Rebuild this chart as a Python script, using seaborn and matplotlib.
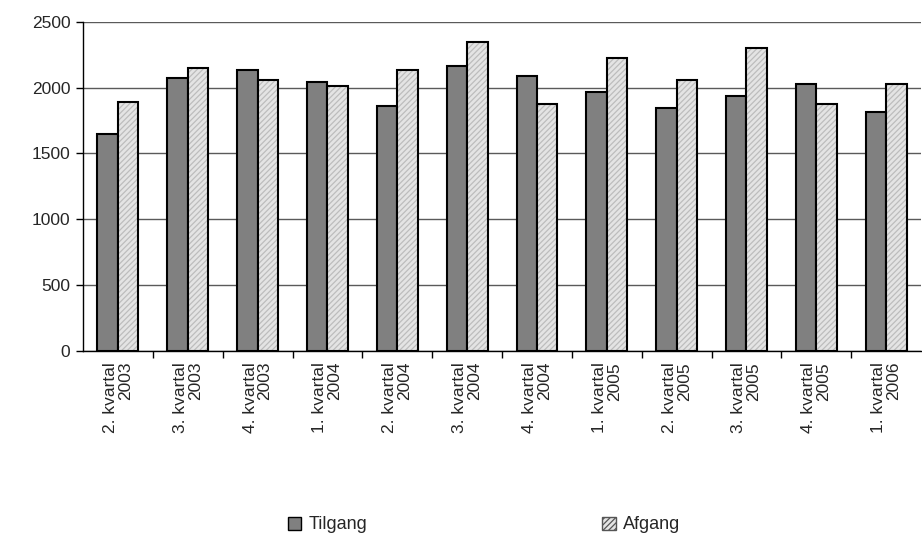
import seaborn as sns
import matplotlib.pyplot as plt
import matplotlib.colors as mcolors
from matplotlib.patches import Patch
from matplotlib.ticker import FixedLocator
import pandas as pd

# Data
kvartaler = ["2. kvartal\n2003", "3. kvartal\n2003", "4. kvartal\n2003",
             "1. kvartal\n2004", "2. kvartal\n2004", "3. kvartal\n2004",
             "4. kvartal\n2004", "1. kvartal\n2005", "2. kvartal\n2005",
             "3. kvartal\n2005", "4. kvartal\n2005", "1. kvartal\n2006"]
tilgang = [1650, 2072, 2135, 2044, 1862, 2163, 2085, 1963, 1844, 1935, 2026, 1813]
afgang = [1890, 2148, 2057, 2014, 2135, 2346, 1877, 2224, 2057, 2300, 1877, 2026]
serier = ["Tilgang", "Afgang"]

df = pd.DataFrame({"kvartal": kvartaler * 2,
                   "antal": tilgang + afgang,
                   "serie": ["Tilgang"] * len(kvartaler) + ["Afgang"] * len(kvartaler)})

sns.set_theme(style="white")
plt.rcParams['font.family'] = ['Liberation Sans', 'DejaVu Sans']
plt.rcParams['hatch.linewidth'] = 0.9

fig = plt.figure(figsize=(9.22, 5.44), dpi=100)
ax = fig.add_axes([0.09, 0.355, 0.909, 0.605])

sns.barplot(data=df, x="kvartal", y="antal", hue="serie", hue_order=serier,
            palette={"Tilgang": "#808080", "Afgang": "#e4e4e4"},
            width=0.585, gap=0, edgecolor="black", linewidth=1.5,
            legend=False, ax=ax, zorder=3)

# skravering på Afgang-søjler
n = len(kvartaler)
for p in ax.patches[n:2 * n]:
    p.set_hatch("//////")
    p._hatch_color = mcolors.to_rgba("#bdbdbd")

ax.set_ylim(0, 2500)
ax.set_xlim(-0.5, n - 0.5)
ax.set_yticks([0, 500, 1000, 1500, 2000, 2500])
ax.yaxis.grid(True, color="#5a5a5a", linewidth=1)
ax.set_axisbelow(True)
ax.set_xlabel("")
ax.set_ylabel("")

for s in ["top", "right"]:
    ax.spines[s].set_visible(False)
for s in ["left", "bottom"]:
    ax.spines[s].set_color("black")
    ax.spines[s].set_linewidth(1)

ax.tick_params(axis="y", which="major", left=True, length=5, width=1, color="black",
               labelsize=12.5, pad=4)
ax.tick_params(axis="x", which="major", bottom=False, labelsize=12.5, pad=2)
ax.xaxis.set_minor_locator(FixedLocator([i + 0.5 for i in range(n - 1)]))
ax.tick_params(axis="x", which="minor", bottom=True, length=5, width=1, color="black")
for lbl in ax.get_xticklabels():
    lbl.set_rotation(90)
    lbl.set_multialignment("right")
    lbl.set_linespacing(1.0)

handles = [Patch(facecolor="#808080", edgecolor="black", linewidth=1, label="Tilgang"),
           Patch(facecolor="#e4e4e4", edgecolor="#555555", linewidth=1, label="Afgang",
                 hatch="//////")]
fig.legend(handles=handles, loc="center", bbox_to_anchor=(0.525, 0.035), ncol=2,
           frameon=False, fontsize=13, handlelength=0.75, handleheight=0.75,
           handletextpad=0.4, columnspacing=13)

fig.savefig("out.png", dpi=100)
